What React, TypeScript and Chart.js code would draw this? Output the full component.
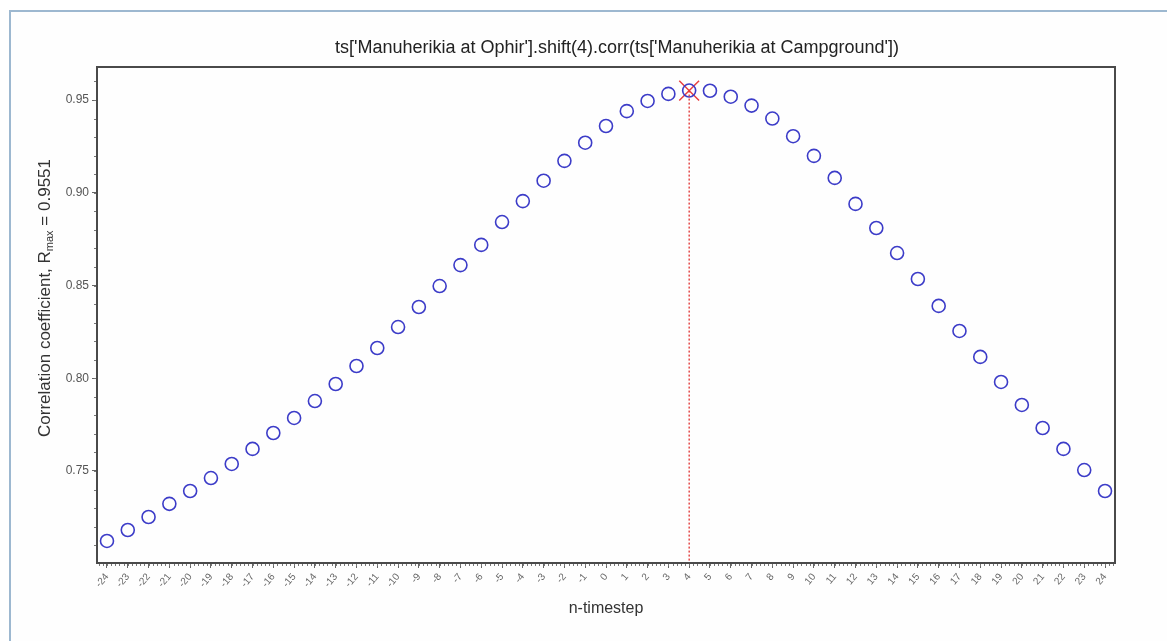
import React, { useEffect, useRef } from "react";
import { Chart, registerables } from "chart.js";

Chart.register(...registerables);

const TITLE = "ts['Manuherikia at Ophir'].shift(4).corr(ts['Manuherikia at Campground'])";
const X_TITLE = "n-timestep";
const Y_TITLE_MAIN = "Correlation coefficient, R";
const Y_TITLE_SUB = "max";
const Y_TITLE_END = " = 0.9551";

const lags = [-24, -23, -22, -21, -20, -19, -18, -17, -16, -15, -14, -13, -12, -11, -10, -9, -8, -7, -6, -5, -4, -3, -2, -1, 0, 1, 2, 3, 4, 5, 6, 7, 8, 9, 10, 11, 12, 13, 14, 15, 16, 17, 18, 19, 20, 21, 22, 23, 24];
const corr = [0.7123, 0.7182, 0.7252, 0.7323, 0.7392, 0.7462, 0.7538, 0.7619, 0.7705, 0.7786, 0.7877, 0.7969, 0.8066, 0.8163, 0.8276, 0.8384, 0.8497, 0.861, 0.8719, 0.8842, 0.8955, 0.9065, 0.9172, 0.927, 0.936, 0.944, 0.9495, 0.9533, 0.9551, 0.955, 0.9518, 0.947, 0.94, 0.9305, 0.9199, 0.908, 0.894, 0.881, 0.8675, 0.8535, 0.839, 0.8255, 0.8115, 0.798, 0.7856, 0.7732, 0.7619, 0.7505, 0.7392];
const peakLag = [4];
const peakR = [0.9551];
const yTickValues = [0.75, 0.8, 0.85, 0.9, 0.95];
const yRange = [0.7004, 0.9678];
const xRange = [-24.48, 24.48];

const FONT = "'Liberation Sans', Arial, sans-serif";

const decorPlugin = {
  id: "decor",
  afterDraw(chart: any) {
    const ctx = chart.ctx;
    const a = chart.chartArea;
    const xs = chart.scales.x;
    const ys = chart.scales.y;
    ctx.save();
    // minor ticks
    ctx.strokeStyle = "#777";
    ctx.lineWidth = 1;
    ctx.beginPath();
    for (let v = 0.70; v <= yRange[1]; v += 0.01) {
      const y = Math.round(ys.getPixelForValue(v)) + 0.5;
      if (y < a.top || y > a.bottom) continue;
      ctx.moveTo(a.left - 3, y);
      ctx.lineTo(a.left, y);
    }
    for (let v = -24.4; v <= 24.5; v += 0.2) {
      const x = Math.round(xs.getPixelForValue(v)) + 0.5;
      if (x < a.left || x > a.right) continue;
      ctx.moveTo(x, a.bottom);
      ctx.lineTo(x, a.bottom + 3);
    }
    ctx.stroke();
    // frame
    ctx.strokeStyle = "#4a4a4a";
    ctx.lineWidth = 2;
    ctx.strokeRect(a.left, a.top, a.right - a.left, a.bottom - a.top);
    // title
    ctx.fillStyle = "#222";
    ctx.textAlign = "center";
    ctx.textBaseline = "middle";
    ctx.font = `18px ${FONT}`;
    ctx.fillText(TITLE, 609, 40);
    // x title
    ctx.font = `16px ${FONT}`;
    ctx.fillStyle = "#333";
    ctx.fillText(X_TITLE, 598, 601);
    // y title with subscript
    ctx.translate(37, 290);
    ctx.rotate(-Math.PI / 2);
    ctx.textAlign = "left";
    ctx.font = `17px ${FONT}`;
    const w1 = ctx.measureText(Y_TITLE_MAIN).width;
    ctx.font = `11px ${FONT}`;
    const w2 = ctx.measureText(Y_TITLE_SUB).width;
    ctx.font = `17px ${FONT}`;
    const w3 = ctx.measureText(Y_TITLE_END).width;
    let x0 = -(w1 + w2 + w3) / 2;
    ctx.fillText(Y_TITLE_MAIN, x0, 0);
    x0 += w1;
    ctx.font = `11px ${FONT}`;
    ctx.fillText(Y_TITLE_SUB, x0, 5);
    x0 += w2;
    ctx.font = `17px ${FONT}`;
    ctx.fillText(Y_TITLE_END, x0, 0);
    ctx.restore();
  },
};

export default function App() {
  const ref = useRef<HTMLCanvasElement | null>(null);
  useEffect(() => {
    if (!ref.current) return;
    const chart = new Chart(ref.current, {
      type: "scatter",
      data: {
        datasets: [
          {
            label: "peak line",
            type: "line",
            data: [
              { x: peakLag[0], y: peakR[0] },
              { x: peakLag[0], y: yRange[0] },
            ],
            borderColor: "#e03030",
            borderWidth: 1.3,
            borderDash: [2, 2],
            pointRadius: 0,
            showLine: true,
            fill: false,
          },
          {
            label: "corr",
            data: lags.map((l, i) => ({ x: l, y: corr[i] })),
            pointStyle: "circle",
            pointRadius: 6.5,
            pointBorderWidth: 1.6,
            pointBorderColor: "#3c3cc8",
            pointBackgroundColor: "rgba(0,0,0,0)",
            showLine: false,
          },
          {
            label: "peak",
            data: peakLag.map((l, i) => ({ x: l, y: peakR[i] })),
            pointStyle: "crossRot",
            pointRadius: 14,
            pointBorderWidth: 1.5,
            pointBorderColor: "#e84040",
            showLine: false,
          },
        ],
      },
      options: {
        animation: false,
        responsive: false,
        maintainAspectRatio: false,
        events: [],
        layout: { padding: { top: 59, left: 0, right: 60, bottom: 28 } },
        plugins: { legend: { display: false }, tooltip: { enabled: false }, title: { display: false } },
        scales: {
          x: {
            type: "linear",
            min: xRange[0],
            max: xRange[1],
            afterBuildTicks: (axis: any) => {
              axis.ticks = lags.map((v) => ({ value: v }));
            },
            afterFit: (axis: any) => {
              axis.height = 50;
            },
            grid: { drawOnChartArea: false, drawTicks: true, tickLength: 5, color: "#666" },
            border: { display: true, color: "#4a4a4a", width: 2 },
            ticks: {
              autoSkip: false,
              minRotation: 50,
              maxRotation: 50,
              padding: 3,
              color: "#666",
              font: { family: FONT, size: 10 },
              callback: (v: any) => String(v),
            },
          },
          y: {
            type: "linear",
            min: yRange[0],
            max: yRange[1],
            afterBuildTicks: (axis: any) => {
              axis.ticks = yTickValues.map((v) => ({ value: v }));
            },
            afterFit: (axis: any) => {
              axis.width = 89;
            },
            grid: { drawOnChartArea: false, drawTicks: true, tickLength: 5, color: "#666" },
            border: { display: true, color: "#4a4a4a", width: 2 },
            ticks: {
              padding: 3,
              color: "#555",
              font: { family: FONT, size: 12 },
              callback: (v: any) => Number(v).toFixed(2),
            },
          },
        },
      },
      plugins: [decorPlugin],
    } as any);
    return () => chart.destroy();
  }, []);

  return (
    <div style={{ position: "relative", width: 1167, height: 633 }}>
      <div
        style={{
          position: "absolute",
          left: 1,
          top: 2,
          width: 1166,
          height: 631,
          borderTop: "2px solid #9db8d0",
          borderLeft: "2px solid #9db8d0",
          boxSizing: "border-box",
          background: "#fefefe",
        }}
      />
      <canvas ref={ref} width={1167} height={633} style={{ position: "absolute", left: 0, top: 0 }} />
    </div>
  );
}
